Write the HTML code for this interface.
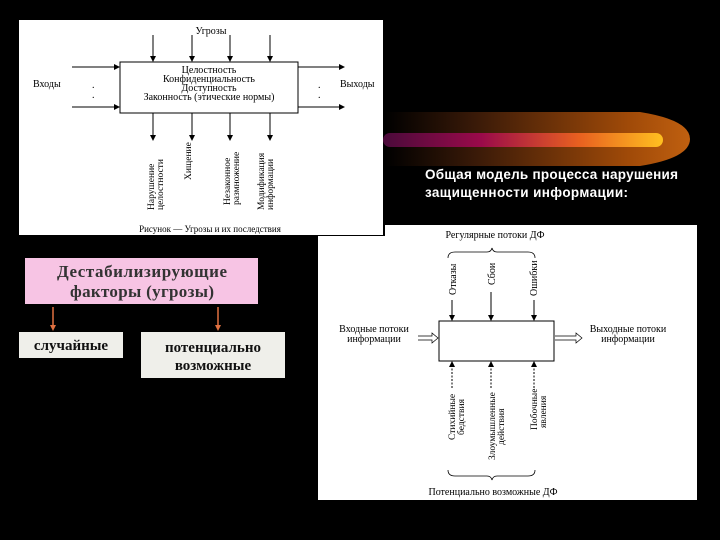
<!DOCTYPE html>
<html><head><meta charset="utf-8"><style>
body{margin:0;background:#000;width:720px;height:540px;overflow:hidden}
svg{display:block}
</style></head><body>
<svg width="720" height="540" viewBox="0 0 720 540" xmlns="http://www.w3.org/2000/svg">
<defs>
<linearGradient id="bar" x1="0" x2="1"><stop offset="0" stop-color="#4a0a3a"/><stop offset="0.35" stop-color="#9a0a4a"/><stop offset="0.7" stop-color="#e86020"/><stop offset="1" stop-color="#ffc020"/></linearGradient>
<linearGradient id="glow" x1="0" x2="1"><stop offset="0" stop-color="#000"/><stop offset="0.3" stop-color="#3a1a08"/><stop offset="0.8" stop-color="#a04a08"/><stop offset="1" stop-color="#c06010"/></linearGradient>
<marker id="a" markerWidth="6" markerHeight="6" refX="5" refY="3" orient="auto"><path d="M0,0L6,3L0,6z" fill="#000"/></marker>
</defs>
<rect width="720" height="540" fill="#000"/>
<path d="M385,112 L640,112 Q690,120 690,139 Q690,158 640,166 L385,166 Z" fill="url(#glow)"/>
<rect x="383" y="133" width="280" height="14" rx="7" fill="url(#bar)"/>
<g font-family="'Liberation Sans',sans-serif" font-weight="bold" font-size="13.5" fill="#fff">
<text x="425" y="179" textLength="253">Общая модель процесса нарушения</text>
<text x="425" y="197" textLength="203">защищенности информации:</text></g>

<!-- left diagram -->
<rect x="19" y="20" width="364" height="215" fill="#fff"/>
<g font-family="'Liberation Serif',serif" font-size="10" fill="#000" stroke="none">
<rect x="120" y="62" width="178" height="51" fill="none" stroke="#000"/>
<text x="211" y="34" text-anchor="middle">Угрозы</text>
<text x="209" y="73" text-anchor="middle">Целостность</text>
<text x="209" y="82" text-anchor="middle">Конфиденциальность</text>
<text x="209" y="91" text-anchor="middle">Доступность</text>
<text x="209" y="100" text-anchor="middle">Законность (этические нормы)</text>
<text x="33" y="87">Входы</text><text x="340" y="87">Выходы</text>
<text x="92" y="88">.</text><text x="92" y="98">.</text><text x="318" y="88">.</text><text x="318" y="98">.</text>
<g stroke="#000" marker-end="url(#a)">
<line x1="153" y1="35" x2="153" y2="61"/><line x1="192" y1="35" x2="192" y2="61"/><line x1="230" y1="35" x2="230" y2="61"/><line x1="270" y1="35" x2="270" y2="61"/>
<line x1="153" y1="113" x2="153" y2="140"/><line x1="192" y1="113" x2="192" y2="140"/><line x1="230" y1="113" x2="230" y2="140"/><line x1="270" y1="113" x2="270" y2="140"/>
<line x1="72" y1="67" x2="119" y2="67"/><line x1="72" y1="107" x2="119" y2="107"/>
<line x1="298" y1="67" x2="344" y2="67"/><line x1="298" y1="107" x2="344" y2="107"/></g>
<g font-size="9.5">
<text transform="translate(154,210) rotate(-90)">Нарушение</text><text transform="translate(163,210) rotate(-90)">целостности</text>
<text transform="translate(191,180) rotate(-90)">Хищение</text>
<text transform="translate(230,205) rotate(-90)">Незаконное</text><text transform="translate(239,205) rotate(-90)">размножение</text>
<text transform="translate(264,210) rotate(-90)">Модификация</text><text transform="translate(273,210) rotate(-90)">информации</text></g>
<text x="210" y="232" text-anchor="middle" font-size="9">Рисунок — Угрозы и их последствия</text>
</g>

<!-- right diagram -->
<rect x="385" y="225" width="312" height="12" fill="#fff"/>
<rect x="318" y="236" width="379" height="264" fill="#fff"/>
<g font-family="'Liberation Serif',serif" font-size="10" fill="#000">
<rect x="439" y="321" width="115" height="40" fill="none" stroke="#000"/>
<text x="495" y="238" text-anchor="middle">Регулярные потоки ДФ</text>
<path d="M448,258 Q448,252 455,252 L487,252 Q491,252 492,248 Q493,252 497,252 L528,252 Q535,252 535,258" fill="none" stroke="#000" stroke-width="0.8"/>
<text transform="translate(456,295) rotate(-90)">Отказы</text>
<text transform="translate(495,285) rotate(-90)">Сбои</text>
<text transform="translate(537,296) rotate(-90)">Ошибки</text>
<g stroke="#000" marker-end="url(#a)">
<line x1="452" y1="300" x2="452" y2="320"/><line x1="491" y1="292" x2="491" y2="320"/><line x1="534" y1="300" x2="534" y2="320"/></g>
<g stroke="#000" stroke-dasharray="2,1.5" marker-end="url(#a)">
<line x1="452" y1="388" x2="452" y2="362"/><line x1="491" y1="388" x2="491" y2="362"/><line x1="534" y1="388" x2="534" y2="362"/></g>
<g font-size="9.5">
<text transform="translate(455,440) rotate(-90)">Стихийные</text><text transform="translate(464,435) rotate(-90)">бедствия</text>
<text transform="translate(495,460) rotate(-90)">Злоумышленные</text><text transform="translate(504,445) rotate(-90)">действия</text>
<text transform="translate(537,430) rotate(-90)">Побочные</text><text transform="translate(546,428) rotate(-90)">явления</text></g>
<path d="M448,470 Q448,476 455,476 L487,476 Q491,476 492,480 Q493,476 497,476 L528,476 Q535,476 535,470" fill="none" stroke="#000" stroke-width="0.8"/>
<text x="493" y="495" text-anchor="middle">Потенциально возможные ДФ</text>
<text x="374" y="332" text-anchor="middle">Входные потоки</text><text x="374" y="342" text-anchor="middle">информации</text>
<text x="628" y="332" text-anchor="middle">Выходные потоки</text><text x="628" y="342" text-anchor="middle">информации</text>
<g fill="none" stroke="#000" stroke-width="0.7">
<path d="M418,336 L432,336 L432,333 L438,338 L432,343 L432,340 L418,340"/>
<path d="M555,336 L576,336 L576,333 L582,338 L576,343 L576,340 L555,340"/></g>
</g>

<!-- bottom-left boxes -->
<rect x="25" y="258" width="233" height="46" fill="#f7c4e4"/>
<g font-family="'Liberation Serif',serif" font-size="17" font-weight="bold" fill="#333" text-anchor="middle">
<text x="142" y="277" textLength="170">Дестабилизирующие</text><text x="142" y="297" textLength="144">факторы (угрозы)</text></g>
<g stroke="#e07040" stroke-width="1.5"><line x1="53" y1="307" x2="53" y2="327"/><line x1="218" y1="307" x2="218" y2="327"/></g>
<path d="M50,325 L56,325 L53,331z M215,325 L221,325 L218,331z" fill="#e07040"/>
<rect x="19" y="332" width="104" height="26" fill="#efefea"/>
<rect x="141" y="332" width="144" height="46" fill="#efefea"/>
<g font-family="'Liberation Serif',serif" font-size="15" font-weight="bold" fill="#111" text-anchor="middle">
<text x="71" y="350">случайные</text>
<text x="213" y="352">потенциально</text><text x="213" y="370">возможные</text></g>
</svg>
</body></html>
